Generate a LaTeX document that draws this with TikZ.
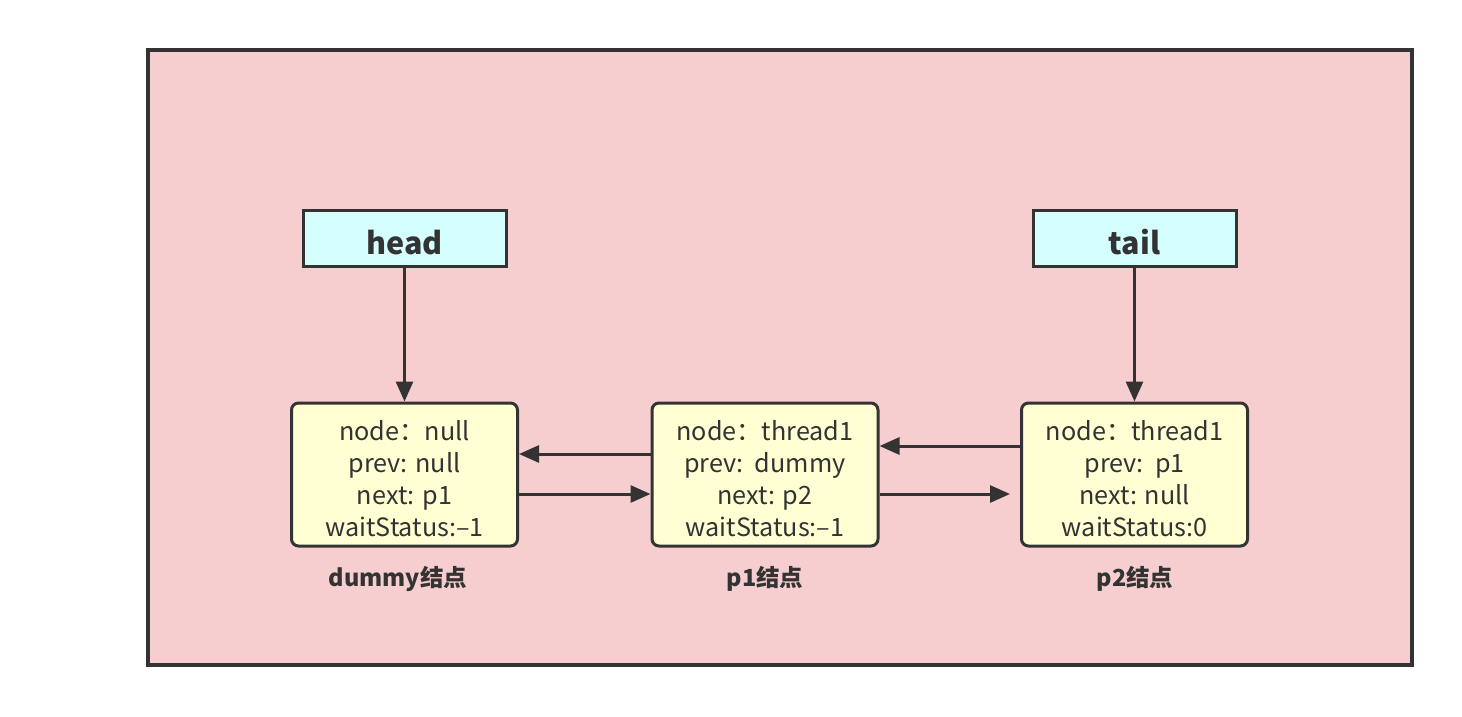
\documentclass[tikz,border=0pt]{standalone}
\usepackage{fontspec}
\setmainfont{Noto Sans CJK SC}
\usetikzlibrary{arrows.meta}
\definecolor{pinkbg}{HTML}{F7CECF}
\definecolor{cyanbox}{HTML}{D5FEFF}
\definecolor{yelbox}{HTML}{FFFFD3}
\definecolor{ink}{HTML}{333333}
\newcommand{\fourlines}[4]{\raisebox{-13.8pt}[0pt][0pt]{\begin{tabular}{@{}c@{}}#1\\#2\\#3\\#4\end{tabular}}}
\newcommand{\ptrtext}[1]{\raisebox{-16.5pt}[0pt][0pt]{#1}}
\tikzset{
  ptr/.style={draw=ink, line width=3pt, fill=cyanbox, minimum width=203pt, minimum height=56pt, inner sep=0pt, text=ink, font=\bfseries\fontsize{30.5}{34}\selectfont},
  qnode/.style={draw=ink, line width=3pt, fill=yelbox, rounded corners=7pt, minimum width=226pt, minimum height=143pt, inner sep=0pt, align=center, text=ink, font=\fontsize{25.2}{32}\selectfont},
  cap label/.style={text=ink, font=\bfseries\fontsize{23.5}{26}\selectfont},
  link/.style={draw=ink, line width=3pt, -{Triangle[length=20pt,width=17pt]}}
}
\begin{document}
\begin{tikzpicture}[x=1pt,y=-1pt]
\useasboundingbox (0,0) rectangle (1462,716);
\fill[white] (0,0) rectangle (1462,716);
\draw[draw=ink, line width=4pt, fill=pinkbg] (148,50) rectangle (1412,665);
\node[ptr] (head) at (404.5,238) {\ptrtext{head}};
\node[ptr] (tail) at (1134.5,238) {\ptrtext{tail}};
\node[qnode] (dummy) at (404.5,474.5) {\fourlines{node：null}{prev: null}{next: p1}{waitStatus:{\textendash}1}};
\node[qnode] (p1) at (765,474.5) {\fourlines{node：thread1}{prev:\ \ dummy}{next: p2}{waitStatus:{\textendash}1}};
\node[qnode] (p2) at (1134.5,474.5) {\fourlines{node：thread1}{prev:\ \ p1}{next: null}{waitStatus:0}};
\node[cap label] at (398,579) {dummy结点};
\node[cap label] at (765,579) {p1结点};
\node[cap label] at (1135,579) {p2结点};
\draw[link] (head.south) -- (dummy.north);
\draw[link] (tail.south) -- (p2.north);
\draw[link] (p1.west |- 0,454) -- (dummy.east |- 0,454);
\draw[link] (dummy.east |- 0,494) -- (p1.west |- 0,494);
\draw[link] (p2.west |- 0,446) -- (p1.east |- 0,446);
\draw[link] (p1.east |- 0,494) -- ([xshift=-10pt]p2.west |- 0,494);
\end{tikzpicture}
\end{document}
